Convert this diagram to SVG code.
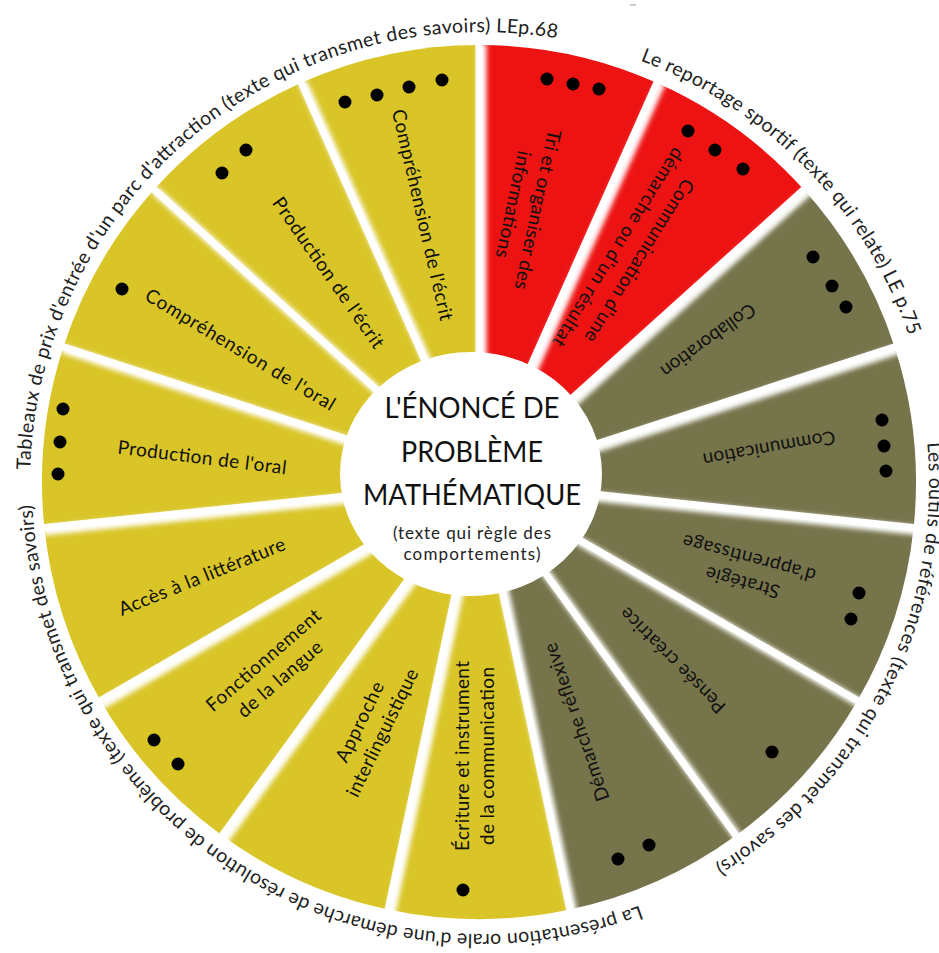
<svg xmlns="http://www.w3.org/2000/svg" width="939" height="953" viewBox="0 0 939 953">
<style>
.y{fill:#D9C527}.r{fill:#EE1313}.o{fill:#76744B}
.lbl{font-family:Lato,"Liberation Sans",sans-serif;font-size:19px;fill:#111;text-anchor:middle}
.ctr{font-family:Lato,"Liberation Sans",sans-serif;font-size:28px;fill:#111;text-anchor:middle}
.sub{font-family:Lato,"Liberation Sans",sans-serif;font-size:17px;fill:#222;text-anchor:middle}
.arc{font-family:Lato,"Liberation Sans",sans-serif;font-size:19.5px;fill:#222}
.dot{fill:#000}
.sep line{stroke:#fff;stroke-width:7}
.sh line{stroke:#fff;stroke-width:9}
</style>
<defs>
<filter id="soft" filterUnits="userSpaceOnUse" x="0" y="0" width="939" height="953"><feGaussianBlur stdDeviation="2.5"/></filter>
<path id="a1" d="M30.2 469.8 A452 452 0 0 1 636.6 59.3"/>
<path id="a2" d="M640.3 60.6 A452 452 0 0 1 927.1 405.5"/>
<path id="a3" d="M927.1 442.7 A447 447 0 0 1 559.6 924.2"/>
<path id="a4" d="M639.6 905.5 A450 450 0 0 1 33.7 444.8"/>
</defs>
<rect width="939" height="953" fill="#fff"/>
<line x1="630" y1="5" x2="636" y2="5" stroke="#999" stroke-width="1"/>

<g id="tri-organiser">
<path class="r" d="M479 482 L479 45 A437 437 0 0 1 656.7 82.8Z"/>
<text class="lbl" transform="translate(525 207) rotate(102)" y="-6.5" textLength="163" lengthAdjust="spacing">Tri et organiser des</text>
<text class="lbl" transform="translate(525 207) rotate(102)" y="18.5" textLength="109" lengthAdjust="spacing">informations</text>
<circle class="dot" cx="547" cy="79" r="6.5"/><circle class="dot" cx="573" cy="84" r="6.5"/><circle class="dot" cx="599" cy="89" r="6.5"/>
</g>
<g id="communication-demarche">
<path class="r" d="M479 482 L656.7 82.8 A437 437 0 0 1 803.8 189.6Z"/>
<text class="lbl" transform="translate(628.5 254) rotate(122)" y="-6.5" textLength="189" lengthAdjust="spacing">Communication d'une</text>
<text class="lbl" transform="translate(628.5 254) rotate(122)" y="18.5" textLength="231" lengthAdjust="spacing">démarche ou d'un résultat</text>
<circle class="dot" cx="688" cy="131" r="6.5"/><circle class="dot" cx="715" cy="150" r="6.5"/><circle class="dot" cx="743" cy="169" r="6.5"/>
</g>
<g id="collaboration">
<path class="o" d="M479 482 L803.8 189.6 A437 437 0 0 1 894.6 347Z"/>
<text class="lbl" transform="translate(708 340) rotate(144)" y="6" textLength="112" lengthAdjust="spacing">Collaboration</text>
<circle class="dot" cx="813" cy="257" r="6.5"/><circle class="dot" cx="832" cy="286" r="6.5"/><circle class="dot" cx="846" cy="307" r="6.5"/>
</g>
<g id="communication">
<path class="o" d="M479 482 L894.6 347 A437 437 0 0 1 913.6 527.7Z"/>
<text class="lbl" transform="translate(769 448) rotate(170)" y="6" textLength="134" lengthAdjust="spacing">Communication</text>
<circle class="dot" cx="882" cy="420" r="6.5"/><circle class="dot" cx="884" cy="446" r="6.5"/><circle class="dot" cx="886" cy="471" r="6.5"/>
</g>
<g id="strategie">
<path class="o" d="M479 482 L913.6 527.7 A437 437 0 0 1 857.5 700.5Z"/>
<text class="lbl" transform="translate(746 570) rotate(195)" y="-6.5" textLength="76" lengthAdjust="spacing">Stratégie</text>
<text class="lbl" transform="translate(746 570) rotate(195)" y="18.5" textLength="137" lengthAdjust="spacing">d'apprentissage</text>
<circle class="dot" cx="859" cy="593" r="6.5"/><circle class="dot" cx="851" cy="619" r="6.5"/>
</g>
<g id="pensee-creatrice">
<path class="o" d="M479 482 L857.5 700.5 A437 437 0 0 1 735.9 835.5Z"/>
<text class="lbl" transform="translate(673 660) rotate(225)" y="6" textLength="141" lengthAdjust="spacing">Pensée créatrice</text>
<circle class="dot" cx="772" cy="752" r="6.5"/>
</g>
<g id="demarche-reflexive">
<path class="o" d="M479 482 L735.9 835.5 A437 437 0 0 1 569.9 909.5Z"/>
<text class="lbl" transform="translate(577 722) rotate(-109)" y="6" textLength="166" lengthAdjust="spacing">Démarche réflexive</text>
<circle class="dot" cx="649" cy="845" r="6.5"/><circle class="dot" cx="618" cy="859" r="6.5"/>
</g>
<g id="ecriture-instrument">
<path class="y" d="M479 482 L569.9 909.5 A437 437 0 0 1 388.1 909.5Z"/>
<text class="lbl" transform="translate(475 756) rotate(-90)" y="-6.5" textLength="190" lengthAdjust="spacing">Écriture et instrument</text>
<text class="lbl" transform="translate(475 756) rotate(-90)" y="18.5" textLength="178" lengthAdjust="spacing">de la communication</text>
<circle class="dot" cx="463" cy="890" r="6.5"/>
</g>
<g id="approche-interlinguistique">
<path class="y" d="M479 482 L388.1 909.5 A437 437 0 0 1 222.1 835.5Z"/>
<text class="lbl" transform="translate(371.5 727.5) rotate(-64)" y="-6.5" textLength="87" lengthAdjust="spacing">Approche</text>
<text class="lbl" transform="translate(371.5 727.5) rotate(-64)" y="18.5" textLength="140" lengthAdjust="spacing">interlinguistique</text>
</g>
<g id="fonctionnement-langue">
<path class="y" d="M479 482 L222.1 835.5 A437 437 0 0 1 100.5 700.5Z"/>
<text class="lbl" transform="translate(272 670) rotate(-41)" y="-6.5" textLength="145" lengthAdjust="spacing">Fonctionnement</text>
<text class="lbl" transform="translate(272 670) rotate(-41)" y="18.5" textLength="106" lengthAdjust="spacing">de la langue</text>
<circle class="dot" cx="154" cy="740" r="6.5"/><circle class="dot" cx="178" cy="764" r="6.5"/>
</g>
<g id="acces-litterature">
<path class="y" d="M479 482 L100.5 700.5 A437 437 0 0 1 44.4 527.7Z"/>
<text class="lbl" transform="translate(202 577) rotate(-22)" y="6" textLength="178" lengthAdjust="spacing">Accès à la littérature</text>
</g>
<g id="production-oral">
<path class="y" d="M479 482 L44.4 527.7 A437 437 0 0 1 63.4 347Z"/>
<text class="lbl" transform="translate(202 458) rotate(7)" y="6" textLength="170" lengthAdjust="spacing">Production  de l'oral</text>
<circle class="dot" cx="63" cy="409" r="6.5"/><circle class="dot" cx="60" cy="442" r="6.5"/><circle class="dot" cx="58" cy="474" r="6.5"/>
</g>
<g id="comprehension-oral">
<path class="y" d="M479 482 L63.4 347 A437 437 0 0 1 154.2 189.6Z"/>
<text class="lbl" transform="translate(240 350) rotate(31)" y="6" textLength="218" lengthAdjust="spacing">Compréhension  de l'oral</text>
<circle class="dot" cx="122" cy="289" r="6.5"/>
</g>
<g id="production-ecrit">
<path class="y" d="M479 482 L154.2 189.6 A437 437 0 0 1 301.3 82.8Z"/>
<text class="lbl" transform="translate(328 273) rotate(55)" y="6" textLength="180" lengthAdjust="spacing">Production  de l'écrit</text>
<circle class="dot" cx="222" cy="173" r="6.5"/><circle class="dot" cx="246" cy="150" r="6.5"/>
</g>
<g id="comprehension-ecrit">
<path class="y" d="M479 482 L301.3 82.8 A437 437 0 0 1 479 45Z"/>
<text class="lbl" transform="translate(422 215) rotate(77)" y="6" textLength="216" lengthAdjust="spacing">Compréhension  de  l'écrit</text>
<circle class="dot" cx="345" cy="102" r="6.5"/><circle class="dot" cx="377" cy="95" r="6.5"/><circle class="dot" cx="409" cy="87" r="6.5"/><circle class="dot" cx="442" cy="80" r="6.5"/>
</g>

<g id="separators">
<g class="sh" filter="url(#soft)" transform="translate(3 3)">
<line x1="479" y1="482" x2="479" y2="41"/><line x1="479" y1="482" x2="658.4" y2="79.1"/><line x1="479" y1="482" x2="806.7" y2="186.9"/><line x1="479" y1="482" x2="898.4" y2="345.7"/><line x1="479" y1="482" x2="917.6" y2="528.1"/><line x1="479" y1="482" x2="860.9" y2="702.5"/><line x1="479" y1="482" x2="738.2" y2="838.8"/><line x1="479" y1="482" x2="570.7" y2="913.4"/><line x1="479" y1="482" x2="387.3" y2="913.4"/><line x1="479" y1="482" x2="219.8" y2="838.8"/><line x1="479" y1="482" x2="97.1" y2="702.5"/><line x1="479" y1="482" x2="40.4" y2="528.1"/><line x1="479" y1="482" x2="59.6" y2="345.7"/><line x1="479" y1="482" x2="151.3" y2="186.9"/><line x1="479" y1="482" x2="299.6" y2="79.1"/>
</g>
<g class="sep">
<line x1="479" y1="482" x2="479" y2="41"/><line x1="479" y1="482" x2="658.4" y2="79.1"/><line x1="479" y1="482" x2="806.7" y2="186.9"/><line x1="479" y1="482" x2="898.4" y2="345.7"/><line x1="479" y1="482" x2="917.6" y2="528.1"/><line x1="479" y1="482" x2="860.9" y2="702.5"/><line x1="479" y1="482" x2="738.2" y2="838.8"/><line x1="479" y1="482" x2="570.7" y2="913.4"/><line x1="479" y1="482" x2="387.3" y2="913.4"/><line x1="479" y1="482" x2="219.8" y2="838.8"/><line x1="479" y1="482" x2="97.1" y2="702.5"/><line x1="479" y1="482" x2="40.4" y2="528.1"/><line x1="479" y1="482" x2="59.6" y2="345.7"/><line x1="479" y1="482" x2="151.3" y2="186.9"/><line x1="479" y1="482" x2="299.6" y2="79.1"/>
</g>
</g>

<g id="centre">
<ellipse cx="471" cy="474" rx="131" ry="122" fill="#fff"/>
<text class="ctr" x="472" y="418" textLength="175" lengthAdjust="spacingAndGlyphs">L'ÉNONCÉ DE</text>
<text class="ctr" x="472" y="462" textLength="142" lengthAdjust="spacingAndGlyphs">PROBLÈME</text>
<text class="ctr" x="472" y="505" textLength="218" lengthAdjust="spacingAndGlyphs">MATHÉMATIQUE</text>
<text class="sub" x="472" y="539" textLength="158" lengthAdjust="spacing">(texte qui règle des</text>
<text class="sub" x="472" y="560" textLength="137" lengthAdjust="spacing">comportements)</text>
</g>

<g id="arc-texts">
<text class="arc"><textPath href="#a1" textLength="771" lengthAdjust="spacing">Tableaux de prix d'entrée d'un parc d'attraction (texte qui transmet des savoirs) LEp.68</textPath></text>
<text class="arc"><textPath href="#a2" textLength="397" lengthAdjust="spacing">Le reportage sportif (texte qui relate) LE p.75</textPath></text>
<text class="arc"><textPath href="#a3" textLength="498" lengthAdjust="spacing">Les outils de références (texte qui transmet des savoirs)</textPath></text>
<text class="arc"><textPath href="#a4" textLength="847" lengthAdjust="spacing">La présentation orale d'une démarche de résolution de problème (texte qui transmet des savoirs)</textPath></text>
</g>
</svg>
